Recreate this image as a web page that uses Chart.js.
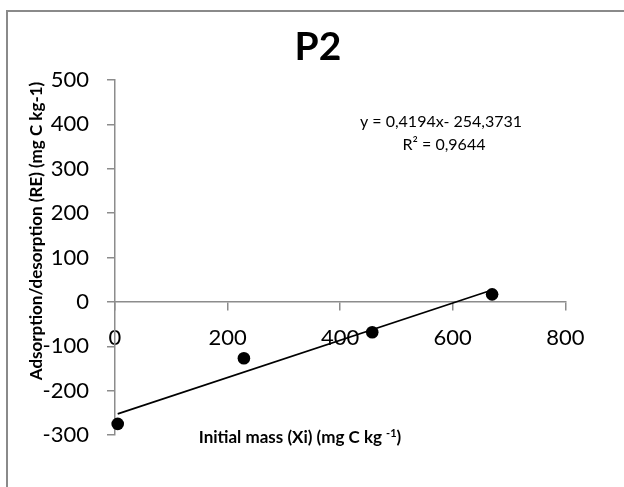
<!DOCTYPE html>
<html><head><meta charset="utf-8">
<script src="https://cdn.jsdelivr.net/npm/chart.js@4"></script>
<style>
html,body{margin:0;padding:0;background:#fff;}
#wrap{position:relative;width:624px;height:487px;overflow:hidden;background:#fff;}
#frame{position:absolute;left:6px;top:10px;width:700px;height:600px;border:2px solid #8a8a8a;box-sizing:border-box;}
canvas{position:absolute;left:0;top:0;}
</style></head><body>
<div id="wrap"><div id="frame"></div><canvas id="c" width="624" height="487"></canvas></div>
<script>
// ---- data ----
const chartTitle = 'P2';
const xValues = [4.8, 229, 457, 670];
const yValues = [-275, -127, -68.5, 17];
const trendX = [4.8, 670];
const trendY = [-252.4, 26.6];
const xTicks = [0, 200, 400, 600, 800];
const yTicks = [-300, -200, -100, 0, 100, 200, 300, 400, 500];
const equationText = 'y = 0,4194x- 254,3731';
const r2Text = 'R² = 0,9644';
const xTitleMain = 'Initial mass (Xi) (mg C kg ';
const xTitleSup = '-1';
const xTitleEnd = ')';
const yTitle = 'Adsorption/desorption (RE) (mg C kg-1)';

const FONT = 'Lato, "Open Sans", sans-serif';
const AXIS = '#8c8c8c';

const textPlugin = {
  id: 'texts',
  afterDraw(chart) {
    const ctx = chart.ctx;
    ctx.save();
    ctx.fillStyle = '#000';
    // title
    ctx.font = 'bold 39px ' + FONT;
    ctx.textAlign = 'center';
    ctx.textBaseline = 'middle';
    ctx.fillText(chartTitle, 318, 47);
    // equation
    ctx.font = '16px ' + FONT;
    ctx.fillText(equationText, 441, 122);
    ctx.fillText(r2Text, 444, 145);
    // y title
    ctx.save();
    ctx.translate(37, 231);
    ctx.rotate(-Math.PI / 2);
    ctx.font = 'bold 17px ' + FONT;
    ctx.fillText(yTitle, 0, 0);
    ctx.restore();
    // x title with superscript
    ctx.textAlign = 'left';
    ctx.textBaseline = 'alphabetic';
    ctx.font = 'bold 17px ' + FONT;
    const w1 = ctx.measureText(xTitleMain).width;
    const w3 = ctx.measureText(xTitleEnd).width;
    ctx.font = 'bold 11px ' + FONT;
    const w2 = ctx.measureText(xTitleSup).width;
    const total = w1 + w2 + w3;
    let x = 300 - total / 2;
    const base = 443;
    ctx.font = 'bold 17px ' + FONT;
    ctx.fillText(xTitleMain, x, base);
    x += w1;
    ctx.font = 'bold 11px ' + FONT;
    ctx.fillText(xTitleSup, x, base - 6);
    x += w2;
    ctx.font = 'bold 17px ' + FONT;
    ctx.fillText(xTitleEnd, x, base);
    ctx.restore();
  }
};

function build() {
  new Chart(document.getElementById('c'), {
    type: 'scatter',
    data: {
      datasets: [
        {
          label: 'points',
          data: xValues.map((x, i) => ({ x, y: yValues[i] })),
          pointRadius: 6.3,
          pointHoverRadius: 6.3,
          backgroundColor: '#000',
          borderColor: '#000',
          borderWidth: 0,
          clip: false
        },
        {
          label: 'trend',
          data: trendX.map((x, i) => ({ x, y: trendY[i] })),
          showLine: true,
          pointRadius: 0,
          borderColor: '#000',
          borderWidth: 1.6,
          clip: false
        }
      ]
    },
    options: {
      responsive: false,
      animation: false,
      devicePixelRatio: 1,
      layout: { padding: { left: 0, top: 80, right: 58.7, bottom: 52 } },
      plugins: { legend: { display: false }, tooltip: { enabled: false }, title: { display: false } },
      scales: {
        x: {
          type: 'linear',
          min: 0, max: 800,
          position: { y: 0 },
          afterBuildTicks: s => { s.ticks = xTicks.map(v => ({ value: v })); },
          afterFit: s => { s.height = 0; },
          grid: { drawOnChartArea: false, drawTicks: true, tickLength: 8, color: AXIS, lineWidth: 1.5 },
          border: { display: true, color: AXIS, width: 1.5 },
          ticks: { font: { family: FONT, size: 22 }, color: '#000', padding: 15, maxRotation: 0 }
        },
        y: {
          type: 'linear',
          min: -300, max: 500,
          position: 'left',
          afterBuildTicks: s => { s.ticks = yTicks.map(v => ({ value: v })); },
          afterFit: s => { s.width = 115; },
          grid: { drawOnChartArea: false, drawTicks: true, tickLength: 8, color: AXIS, lineWidth: 1.5 },
          border: { display: true, color: AXIS, width: 1.5 },
          ticks: { font: { family: FONT, size: 22 }, color: '#000', padding: 18 }
        }
      }
    },
    plugins: [textPlugin]
  });
}
Promise.all([
  document.fonts.load('22px Lato'),
  document.fonts.load('bold 17px Lato'),
  document.fonts.load('bold 39px Lato')
]).then(build, build);
</script>
</body></html>
